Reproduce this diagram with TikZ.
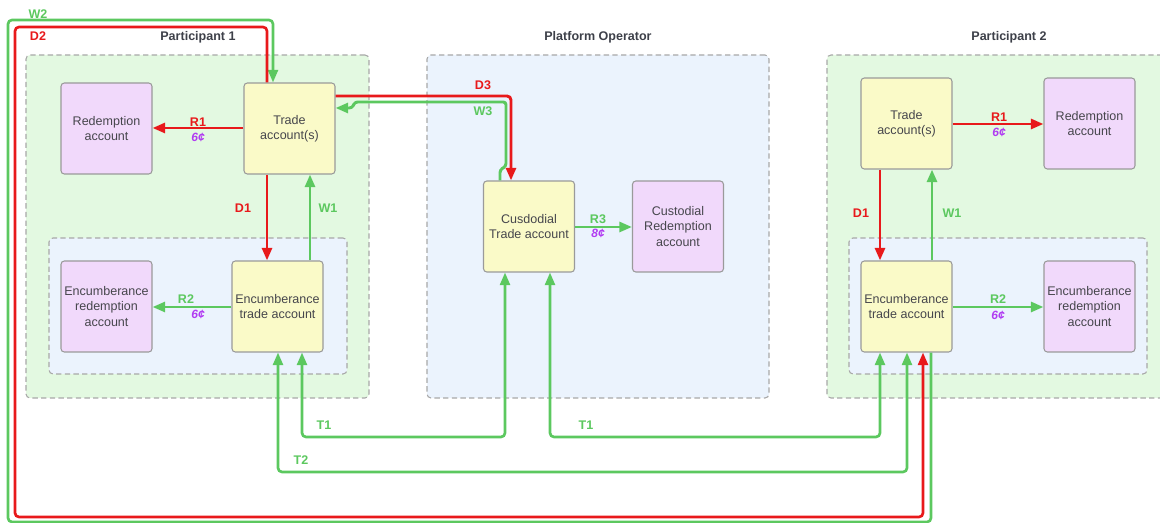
\documentclass[tikz,border=0pt]{standalone}
\usepackage{fontspec}
\setmainfont{Liberation Sans}
\usetikzlibrary{arrows.meta}
\definecolor{lred}{HTML}{E8191B}
\definecolor{lgreen}{HTML}{5CC85F}
\definecolor{lpurple}{HTML}{B13CF2}
\definecolor{grpgreen}{HTML}{E3F9E1}
\definecolor{grpblue}{HTML}{EBF3FD}
\definecolor{acctyellow}{HTML}{FAFAC8}
\definecolor{acctpurple}{HTML}{F1D9FB}
\definecolor{boxborder}{HTML}{9A9A9A}
\definecolor{grpborder}{HTML}{A8A8A8}
\definecolor{txt}{HTML}{46464C}
\definecolor{ttl}{HTML}{3D4049}
\tikzset{
  acct/.style={draw=boxborder, line width=0.8pt, rounded corners=2.5pt,
    minimum width=91*0.75pt, minimum height=91*0.75pt, inner sep=1pt,
    align=center, text=txt, font=\fontsize{9.4}{11.3}\selectfont},
  yel/.style={acct, fill=acctyellow},
  pur/.style={acct, fill=acctpurple},
  grp/.style={draw=grpborder, line width=0.8pt, dash pattern=on 4pt off 2.5pt,
    rounded corners=3pt, inner sep=0pt},
  ttlnode/.style={text=ttl, font=\fontsize{9.4}{11}\selectfont\bfseries},
  lbl/.style={font=\fontsize{9.4}{10}\selectfont\bfseries, inner sep=0pt},
  cost/.style={text=lpurple, font=\fontsize{9}{10}\selectfont\bfseries\itshape, inner sep=0pt},
  conn/.style={line width=2.2pt, rounded corners=3pt},
  rl/.style={conn, draw=lred, -{Triangle[length=9.5pt,width=7.5pt]}},
  gl/.style={conn, draw=lgreen, -{Triangle[length=9.5pt,width=7.5pt]}},
  rlthin/.style={rl, line width=2pt},
  gl2/.style={conn, draw=lgreen, line width=2pt, {Triangle[length=9.5pt,width=7.5pt]}-{Triangle[length=9.5pt,width=7.5pt]}},
}
\begin{document}
\begin{tikzpicture}[x=0.75pt,y=-0.75pt]
\useasboundingbox (0,0) rectangle (1160,523);
% groups
\node[grp, fill=grpgreen, minimum width=343*0.75pt, minimum height=343*0.75pt] (g1) at (197.5,226.5) {};
\node[grp, fill=grpblue, minimum width=298*0.75pt, minimum height=136*0.75pt] (g1i) at (198,306) {};
\node[grp, fill=grpblue, minimum width=342*0.75pt, minimum height=343*0.75pt] (g0) at (598,226.5) {};
\node[grp, fill=grpgreen, minimum width=348*0.75pt, minimum height=343*0.75pt] (g2) at (1001,226.5) {};
\node[grp, fill=grpblue, minimum width=298*0.75pt, minimum height=136*0.75pt] (g2i) at (998,306) {};
\node[ttlnode] (tp1) at (198,37) {Participant 1};
\node[ttlnode] (tp0) at (598,37) {Platform Operator};
\node[ttlnode] (tp2) at (1009,37) {Participant 2};
% accounts
\node[pur] (r1) at (106.5,128.5) {Redemption\\account};
\node[yel] (t1) at (289.5,128.5) {Trade\\account(s)};
\node[pur] (er1) at (106.5,306.5) {Encumberance\\redemption\\account};
\node[yel] (e1) at (277.5,306.5) {Encumberance\\trade account};
\node[yel] (ct) at (529,226.5) {Cusdodial\\Trade account};
\node[pur] (cr) at (678,226.5) {Custodial\\Redemption\\account};
\node[yel] (t2) at (906.5,123.5) {Trade\\account(s)};
\node[pur] (r2) at (1089.5,123.5) {Redemption\\account};
\node[yel] (e2) at (906.5,306.5) {Encumberance\\trade account};
\node[pur] (er2) at (1089.5,306.5) {Encumberance\\redemption\\account};
% long loops
\draw[conn, draw=lgreen, line width=2pt, -{Triangle[length=9.5pt,width=7.5pt]}]
  (e2.south -| 931,0) |- (8,522) |- (273,20) -- (t1.north -| 273,0);
\draw[rlthin] (t1.north -| 267,0) |- (15,27) |- (923,517) -- (e2.south -| 923,0);
% T lines
\draw[gl2] (ct.south -| 505,0) |- (302,437) -- (e1.south -| 302,0);
\draw[gl2] (ct.south -| 550,0) |- (880,437) -- (e2.south -| 880,0);
\draw[gl2] (e1.south -| 278,0) |- (907,472) -- (e2.south -| 907,0);
% D3 / W3
\draw[gl, rounded corners=2pt] (ct.north -| 500,0) -- (500,170) -- (506,166) -- (506,102) -- (355,102) -- (352,108) -- (t1.east |- 0,108);
\draw[rl] (t1.east |- 0,96) -| (ct.north -| 511,0);
% participant 1
\draw[rl] (t1.west |- 0,128) -- (r1.east |- 0,128);
\draw[rl] (t1.south -| 267,0) -- (e1.north -| 267,0);
\draw[gl] (e1.north -| 310,0) -- (t1.south -| 310,0);
\draw[gl] (e1.west |- 0,307) -- (er1.east |- 0,307);
% platform
\draw[gl] (ct.east |- 0,227) -- (cr.west |- 0,227);
% participant 2
\draw[rl] (t2.east |- 0,124) -- (r2.west |- 0,124);
\draw[rl] (t2.south -| 880,0) -- (e2.north -| 880,0);
\draw[gl] (e2.north -| 932,0) -- (t2.south -| 932,0);
\draw[gl] (e2.east |- 0,307) -- (er2.west |- 0,307);
% labels
\node[lbl, text=lgreen] (lw2) at (38,14) {W2};
\node[lbl, text=lred] (ld2) at (38,36) {D2};
\node[lbl, text=lred] (lr1a) at (198,122) {R1};
\node[cost] (c1a) at (198,137) {6¢};
\node[lbl, text=lred] (ld1a) at (243,208) {D1};
\node[lbl, text=lgreen] (lw1a) at (328,208) {W1};
\node[lbl, text=lgreen] (lr2a) at (186,299) {R2};
\node[cost] (c2a) at (198,314) {6¢};
\node[lbl, text=lred] (ld3) at (483,85) {D3};
\node[lbl, text=lgreen] (lw3) at (483,111) {W3};
\node[lbl, text=lgreen] (lr3) at (598,219) {R3};
\node[cost] (c3) at (598,233) {8¢};
\node[lbl, text=lred] (lr1b) at (999,117) {R1};
\node[cost] (c1b) at (999,132) {6¢};
\node[lbl, text=lred] (ld1b) at (861,213) {D1};
\node[lbl, text=lgreen] (lw1b) at (952,213) {W1};
\node[lbl, text=lgreen] (lr2b) at (998,299) {R2};
\node[cost] (c2b) at (998,315) {6¢};
\node[lbl, text=lgreen] (lt1a) at (324,425) {T1};
\node[lbl, text=lgreen] (lt1b) at (586,425) {T1};
\node[lbl, text=lgreen] (lt2) at (301,460) {T2};
\end{tikzpicture}
\end{document}
